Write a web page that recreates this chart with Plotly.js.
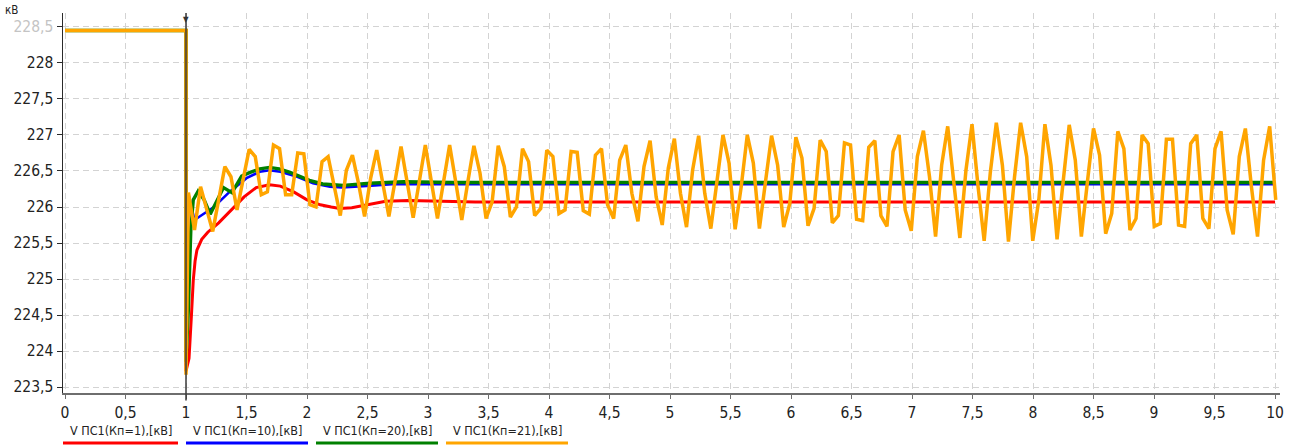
<!DOCTYPE html>
<html>
<head>
<meta charset="utf-8">
<script src="https://cdn.plot.ly/plotly-3.0.1.min.js"></script>
<style>
  html, body { margin: 0; padding: 0; background: #ffffff; }
  #chart { width: 1296px; height: 445px; }
</style>
</head>
<body>
<div id="chart"></div>
<script>
// ---------------- DATA ----------------
const seriesNames = ["V ПС1(Кп=1),[кВ]", "V ПС1(Кп=10),[кВ]", "V ПС1(Кп=20),[кВ]", "V ПС1(Кп=21),[кВ]"];
const unitLabel = "кВ";

// axis ticks
const xTickVals = [0, 0.5, 1, 1.5, 2, 2.5, 3, 3.5, 4, 4.5, 5, 5.5, 6, 6.5, 7, 7.5, 8, 8.5, 9, 9.5, 10];
const yTickVals = [223.5, 224, 224.5, 225, 225.5, 226, 226.5, 227, 227.5, 228, 228.5];

// common pre-disturbance level and disturbance time
const faultTime = 1.0;
const preFaultValue = 228.45;

// Кп=1 (red)
const redT = [0, 1.0, 1.0, 1.025, 1.045, 1.06, 1.075, 1.09, 1.13, 1.18, 1.27, 1.36, 1.43, 1.48, 1.58, 1.69, 1.78, 1.89, 2.0, 2.11, 2.2, 2.27, 2.37, 2.51, 2.65, 2.84, 3.11, 3.39, 10.0];
const redV = [228.45, 228.45, 223.72, 223.9, 224.5, 224.98, 225.25, 225.4, 225.55, 225.65, 225.78, 225.94, 226.05, 226.14, 226.27, 226.31, 226.29, 226.21, 226.10, 226.03, 226.0, 225.98, 225.99, 226.04, 226.08, 226.09, 226.08, 226.07, 226.07];

// Кп=10 (blue)
const blueT = [0, 1.0, 1.0, 1.02, 1.07, 1.23, 1.36, 1.5, 1.61, 1.69, 1.78, 1.92, 2.05, 2.19, 2.29, 2.42, 2.56, 2.7, 2.97, 3.4, 10.0];
const blueV = [228.45, 228.45, 223.8, 226.18, 225.82, 226.0, 226.21, 226.40, 226.49, 226.51, 226.49, 226.42, 226.33, 226.28, 226.27, 226.28, 226.30, 226.315, 226.315, 226.315, 226.315];

// Кп=20 (green)
const greenT = [0, 1.0, 1.0, 1.02, 1.04, 1.06, 1.1, 1.15, 1.2, 1.26, 1.31, 1.38, 1.46, 1.53, 1.61, 1.69, 1.77, 1.86, 1.95, 2.02, 2.13, 2.3, 2.52, 2.8, 3.2, 10.0];
const greenV = [228.45, 228.45, 223.85, 224.6, 225.7, 226.1, 226.22, 226.1, 225.9, 226.1, 226.27, 226.2, 226.43, 226.48, 226.53, 226.55, 226.53, 226.48, 226.42, 226.37, 226.32, 226.30, 226.33, 226.35, 226.34, 226.34];

// Кп=21 (orange): drop at the disturbance, then the solver output samples
const orangeDip = 223.67;
const orangeSampleStart = 1.02;
const orangeSampleStep = 0.0502;
const orangeV = [
  226.20, 225.68, 226.28, 225.97, 225.66, 226.11, 226.56, 226.42, 225.96, 226.38,
  226.80, 226.70, 226.17, 226.21, 226.86, 226.81, 226.17, 226.17, 226.75, 226.74,
  226.03, 226.00, 226.63, 226.70, 226.30, 225.88, 226.51, 226.72, 226.33, 225.87,
  226.40, 226.79, 226.33, 225.87, 226.35, 226.84, 226.35, 225.85, 226.35, 226.86,
  226.35, 225.84, 226.35, 226.86, 226.35, 225.82, 226.35, 226.85, 226.47, 225.84,
  226.07, 226.85, 226.56, 225.86, 226.00, 226.81, 226.63, 225.88, 225.98, 226.79,
  226.70, 225.91, 225.96, 226.77, 226.76, 225.95, 225.90, 226.72, 226.81, 226.03,
  225.84, 226.65, 226.86, 226.19, 225.80, 226.56, 226.92, 226.14, 225.75, 226.54,
  226.95, 226.19, 225.72, 226.51, 226.99, 226.19, 225.70, 226.38, 227.00, 226.61,
  225.69, 226.28, 227.00, 226.61, 225.70, 226.35, 226.99, 226.58, 225.72, 226.05,
  226.97, 226.68, 225.74, 225.98, 226.93, 226.77, 225.78, 225.88, 226.89, 226.86,
  225.83, 225.81, 226.83, 226.92, 225.88, 225.73, 226.77, 227.00, 225.96, 225.67,
  226.70, 227.06, 226.42, 225.59, 226.58, 227.12, 226.38, 225.57, 226.51, 227.15,
  226.28, 225.53, 226.47, 227.17, 226.58, 225.52, 226.42, 227.17, 226.70, 225.53,
  226.10, 227.15, 226.58, 225.55, 226.35, 227.14, 226.65, 225.59, 226.35, 227.09,
  226.72, 225.63, 225.91, 227.05, 226.81, 225.68, 225.84, 227.00, 226.88, 225.73,
  225.77, 226.94, 226.94, 225.75, 225.73, 226.88, 227.00, 225.84, 225.70, 226.81,
  227.05, 225.96, 225.62, 226.70, 227.09, 226.28, 225.59, 226.65, 227.12, 226.10
];

// cursor position (vertical marker line)
const cursorTime = 1.0;

// ---------------- STYLE ----------------
const colors = ["#ff0000", "#0000ff", "#008000", "#ffa500"];
const widths = [3, 2.6, 3.4, 3.5];
const FONT = '"DejaVu Sans Condensed", "DejaVu Sans", sans-serif';

const W = 1296, H = 445;
const M = { l: 63, r: 16, t: 13, b: 52 };
const plotW = W - M.l - M.r, plotH = H - M.t - M.b;
const px2paperX = (p) => (p - M.l) / plotW;
const py2paperY = (p) => (H - M.b - p) / plotH;

const fmt = (v) => String(v).replace(".", ",");

// ---------------- TRACES ----------------
const orangeT = [0, faultTime, faultTime].concat(orangeV.map((_, i) => orangeSampleStart + i * orangeSampleStep));
const orangeY = [preFaultValue, preFaultValue, orangeDip].concat(orangeV);

const seriesX = [redT, blueT, greenT, orangeT];
const seriesY = [redV, blueV, greenV, orangeY];

const traces = seriesX.map((xs, i) => ({
  type: "scatter",
  mode: "lines",
  x: xs,
  y: seriesY[i],
  name: seriesNames[i],
  line: { color: colors[i], width: widths[i], shape: "linear" },
  hoverinfo: "skip",
  showlegend: false
}));

// ---------------- LEGEND (custom: text above a coloured bar) ----------------
const legendStarts = [63, 186, 316, 446];
const legendWidths = [115, 122, 122, 122];
const legendTextY = 430, legendLineY = 443;

const annotations = [];
const shapes = [];
seriesNames.forEach((nm, i) => {
  const cx = legendStarts[i] + legendWidths[i] / 2;
  annotations.push({
    xref: "paper", yref: "paper",
    x: px2paperX(cx), y: py2paperY(legendTextY),
    xanchor: "center", yanchor: "middle",
    text: nm, showarrow: false,
    font: { family: FONT, size: 12.5, color: "#222222" }
  });
  shapes.push({
    type: "line", xref: "paper", yref: "paper",
    x0: px2paperX(legendStarts[i]), x1: px2paperX(legendStarts[i] + legendWidths[i]),
    y0: py2paperY(legendLineY), y1: py2paperY(legendLineY),
    line: { color: colors[i], width: 3 }
  });
});

// unit label in the top-left corner
annotations.push({
  xref: "paper", yref: "paper",
  x: px2paperX(4), y: py2paperY(10),
  xanchor: "left", yanchor: "middle",
  text: unitLabel, showarrow: false,
  borderpad: 0,
  font: { family: FONT, size: 11.5, color: "#222222" }
});

// cursor marker at the top of the cursor line
annotations.push({
  xref: "x", yref: "paper",
  x: cursorTime, y: 1.0,
  xanchor: "center", yanchor: "top",
  text: "▼", showarrow: false,
  font: { family: FONT, size: 8, color: "#333333" }
});

// cursor line
shapes.push({
  type: "line", xref: "x", yref: "paper",
  x0: cursorTime, x1: cursorTime, y0: -0.02, y1: 1.0,
  line: { color: "#3a3a3a", width: 1.5 },
  layer: "above"
});

// y tick labels: the top one is drawn pale (as in the reference)
const yTickText = yTickVals.map((v, i) =>
  i === yTickVals.length - 1 ? '<span style="color:#c4c4c4">' + fmt(v) + '</span>' : fmt(v));
const xTickText = xTickVals.map(fmt);

// ---------------- LAYOUT ----------------
const layout = {
  width: W, height: H,
  margin: M,
  paper_bgcolor: "#ffffff",
  plot_bgcolor: "#ffffff",
  separators: ", ",
  showlegend: false,
  font: { family: FONT, size: 15.5, color: "#222222" },
  xaxis: {
    range: [-0.0165, 10.041],
    tickmode: "array", tickvals: xTickVals, ticktext: xTickText,
    showgrid: true, gridcolor: "#d3d3d3", gridwidth: 1, griddash: "6px,4px",
    zeroline: false,
    showline: true, linecolor: "#6e6e6e", linewidth: 2,
    ticks: "outside", ticklen: 4, tickcolor: "#6e6e6e", tickwidth: 1,
    tickfont: { family: FONT, size: 15.5, color: "#222222" },
    fixedrange: true
  },
  yaxis: {
    range: [223.417, 228.694],
    tickmode: "array", tickvals: yTickVals, ticktext: yTickText,
    showgrid: true, gridcolor: "#d3d3d3", gridwidth: 1, griddash: "6px,4px",
    zeroline: false,
    showline: true, linecolor: "#2a2a2a", linewidth: 1.5,
    ticks: "outside", ticklen: 5, tickcolor: "#2a2a2a", tickwidth: 1,
    tickfont: { family: FONT, size: 15.5, color: "#222222" },
    fixedrange: true
  },
  annotations: annotations,
  shapes: shapes
};

Plotly.newPlot("chart", traces, layout, { staticPlot: true, displayModeBar: false });
</script>
</body>
</html>
